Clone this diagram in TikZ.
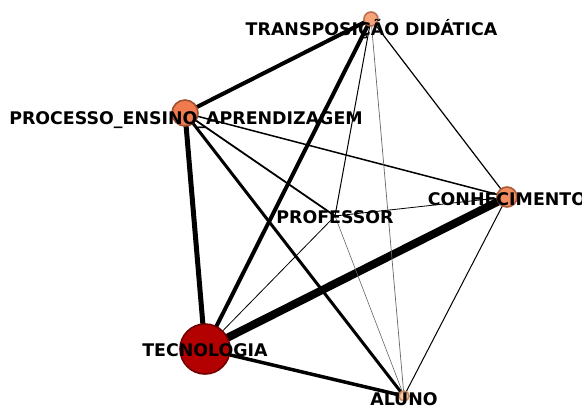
\documentclass[tikz,border=0pt]{standalone}
\usepackage{fontspec}
\setmainfont{DejaVu Sans}
\begin{document}
\begin{tikzpicture}[x=1pt,y=-1pt,
  edge/.style={line cap=butt},
  dot/.style={circle,inner sep=0pt,line width=1.6pt},
  lbl/.style={font=\fontsize{17.4}{20}\selectfont\bfseries,inner sep=0pt,text=black,anchor=center}]
\definecolor{tecfill}{RGB}{179,0,0}
\definecolor{tecline}{RGB}{112,0,0}
\definecolor{peafill}{RGB}{239,123,79}
\definecolor{pealine}{RGB}{160,80,46}
\definecolor{confill}{RGB}{242,140,92}
\definecolor{conline}{RGB}{170,92,58}
\definecolor{tdfill}{RGB}{246,164,122}
\definecolor{tdline}{RGB}{185,112,80}
\definecolor{alufill}{RGB}{253,201,165}
\definecolor{aluline}{RGB}{200,140,100}
\useasboundingbox (0,0) rectangle (582,405);
\clip (0,0) rectangle (582,405);
\fill[white] (0,0) rectangle (582,405);

% node positions
\coordinate (td)  at (371,19);
\coordinate (pea) at (185,113);
\coordinate (con) at (507,197);
\coordinate (pro) at (335,216);
\coordinate (tec) at (205,349);
\coordinate (alu) at (404,396);

% weighted edges
\draw[edge,line width=8pt]   (tec) -- (con);
\draw[edge,line width=5pt]   (pea) -- (tec);
\draw[edge,line width=4pt]   (td) -- (pea);
\draw[edge,line width=4pt]   (td) -- (tec);
\draw[edge,line width=3.5pt] (tec) -- (alu);
\draw[edge,line width=3pt]   (pea) -- (alu);
\draw[edge,line width=1.8pt] (pea) -- (pro);
\draw[edge,line width=1.5pt] (pea) -- (con);
\draw[edge,line width=1.2pt] (td) -- (con);
\draw[edge,line width=1pt]   (td) -- (pro);
\draw[edge,line width=1pt]   (con) -- (alu);
\draw[edge,line width=0.8pt] (tec) -- (pro);
\draw[edge,line width=0.8pt] (pro) -- (con);
\draw[edge,line width=0.7pt,black!60] (td) -- (alu);
\draw[edge,line width=0.6pt,black!60] (pro) -- (alu);

% node markers
\node[dot,minimum size=50pt,fill=tecfill,draw=tecline] (tecdot) at (tec) {};
\node[dot,minimum size=26pt,fill=peafill,draw=pealine] (peadot) at (pea) {};
\node[dot,minimum size=20pt,fill=confill,draw=conline] (condot) at (con) {};
\node[dot,minimum size=14pt,fill=tdfill,draw=tdline] (tddot) at (td) {};
\node[dot,minimum size=10pt,fill=alufill,draw=aluline] (aludot) at (alu) {};

% labels
\node[lbl] (tdlabel)  at (371.5,29)  {TRANSPOSIÇÃO DIDÁTICA};
\node[lbl] (pealabel) at (186,120) {PROCESSO\_ENSINO\_APRENDIZAGEM};
\node[lbl] (conlabel) at (507,199) {CONHECIMENTO};
\node[lbl] (prolabel) at (335,217) {PROFESSOR};
\node[lbl] (teclabel) at (205,350) {TECNOLOGIA};
\node[lbl] (alulabel) at (404,399) {ALUNO};
\end{tikzpicture}
\end{document}
